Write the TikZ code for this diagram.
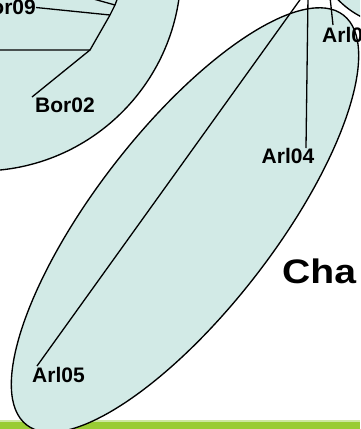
\documentclass[tikz,border=0pt]{standalone}
\usepackage{fontspec}
\setmainfont{Liberation Sans}
\definecolor{ellcol}{RGB}{210,234,230}
\definecolor{barcol}{RGB}{153,204,51}
\definecolor{barlight}{RGB}{205,232,160}
\tikzset{
  ellfill/.style={fill=ellcol},
  ellline/.style={draw=black, line width=1.35pt},
  branch/.style={draw=black, line width=1.3pt},
  lab/.style={font=\bfseries\fontsize{21}{21}\selectfont, inner sep=0pt},
  biglab/.style={font=\bfseries\fontsize{34}{34}\selectfont, inner sep=0pt, xscale=1.15}
}
\begin{document}
\begin{tikzpicture}[x=1pt,y=-1pt]
\useasboundingbox (0,0) rectangle (360,429);
\clip (0,0) rectangle (360,429);
% bottom bar
\fill[barcol] (0,421.5) rectangle (360,429);
\fill[barlight] (0,420) rectangle (360,421.5);
% ellipse fills
\fill[ellfill] (-20,-30) circle[radius=201pt];
\begin{scope}[shift={(185,220)}, rotate=52.3]
  \fill[ellfill] (0,0) ellipse[x radius=259pt, y radius=90pt];
\end{scope}
\fill[ellfill] (400,-60) circle[radius=86pt];
% ellipse outlines
\draw[ellline] (-20,-30) circle[radius=201pt];
\begin{scope}[shift={(185,220)}, rotate=52.3]
  \draw[ellline] (0,0) ellipse[x radius=259pt, y radius=90pt];
\end{scope}
\draw[ellline] (400,-60) circle[radius=86pt];
% labels
\node[lab, anchor=east] (bor09) at (36,7.5) {Bor09};
\node[lab, anchor=north west] (bor02) at (35,97.5) {Bor02};
\node[lab, anchor=north west] (arl0) at (322,27.5) {Arl0};
\node[lab, anchor=north] (arl04) at (288,148.5) {Arl04};
\node[lab, anchor=north west] (arl05) at (32,367) {Arl05};
\node[biglab, anchor=west] (cha) at (282,271) {Cha};
% left tree
\coordinate (bA) at (115,5);
\coordinate (bB) at (110,15);
\coordinate (bC) at (90,50);
\coordinate (bTopL) at (79,-5);
\coordinate (bTopR) at (118,-3);
\coordinate (bLeft) at (-5,50);
\coordinate (b2end) at (32,97);
\draw[branch] (bTopL) -- (bA) -- (bB) -- (bC) -- (bLeft);
\draw[branch] (bA) -- (bTopR);
\draw[branch] (bor09.east) -- (bB);
\draw[branch] (bC) -- (b2end);
% right tree
\coordinate (a5top) at (302,-3);
\coordinate (a5end) at (37,366);
\coordinate (a4top) at (308,-3);
\coordinate (a4end) at (306,148);
\coordinate (a3top) at (330,-3);
\coordinate (a3end) at (333,25);
\draw[branch] (a5top) -- (a5end);
\draw[branch] (a4top) -- (a4end);
\draw[branch] (a3top) -- (a3end);
\end{tikzpicture}
\end{document}
